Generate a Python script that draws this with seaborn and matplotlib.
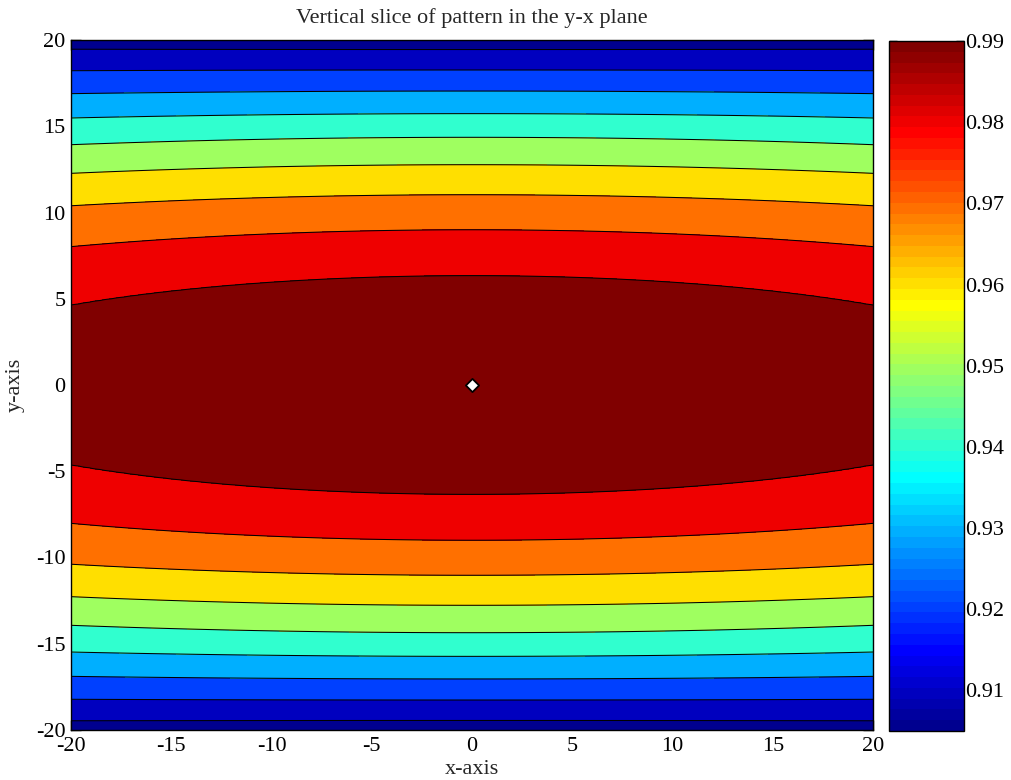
import numpy as np
import matplotlib
matplotlib.use("Agg")
import matplotlib.pyplot as plt
from matplotlib.colors import ListedColormap, Normalize
from matplotlib.cm import ScalarMappable
import seaborn as sns

# ---------------- data ----------------
title = "Vertical slice of pattern in the y-x plane"
x_label = "x-axis"
y_label = "y-axis"
x_ticks = [-20, -15, -10, -5, 0, 5, 10, 15, 20]
y_ticks = [-20, -15, -10, -5, 0, 5, 10, 15, 20]
cbar_ticks = [0.91, 0.92, 0.93, 0.94, 0.95, 0.96, 0.97, 0.98, 0.99]
value_min = 0.905
value_max = 0.99
# contour levels, innermost (highest) to outermost (lowest)
contour_levels = [0.9815, 0.973, 0.9645, 0.956, 0.9475, 0.939, 0.9305, 0.922, 0.9135]
# |y| where each contour crosses x = 0 and x = +/-20
cross_y_center = [6.34, 9.00, 11.03, 12.77, 14.36, 15.73, 17.04, 18.26, 19.44]
cross_y_edge = [4.62, 8.02, 10.39, 12.27, 13.93, 15.48, 16.89, 18.22, 19.46]
# jet(64) colour index (1-based) of each filled band, lowest band first
band_color_index = [1, 4, 12, 19, 27, 34, 42, 49, 57, 64]
source_x = [0.0]
source_y = [0.0]


# ---------------- MATLAB style jet(64) ----------------
def matlab_jet(n=64):
    cols = []
    for k in range(1, n + 1):
        if k <= 8:
            r, g, b = 0.0, 0.0, 0.5 + k / 16
        elif k <= 24:
            r, g, b = 0.0, (k - 8) / 16, 1.0
        elif k <= 40:
            r, g, b = (k - 24) / 16, 1.0, 1.0 - (k - 24) / 16
        elif k <= 56:
            r, g, b = 1.0, 1.0 - (k - 40) / 16, 0.0
        else:
            r, g, b = 1.0 - (k - 56) / 16, 0.0, 0.0
        cols.append((r, g, b))
    return cols


jet64 = matlab_jet(64)
band_colors = [jet64[i - 1] for i in band_color_index]

# ---------------- surface built from the contour crossings ----------------
xs = np.linspace(-20, 20, 401)
ys = np.linspace(-20, 20, 401)
Z = np.empty((len(ys), len(xs)))
c0 = np.array(cross_y_center) ** 2
c1 = np.array(cross_y_edge) ** 2
lv = np.array(contour_levels)
for j, xv in enumerate(xs):
    t = (xv / 20.0) ** 2
    yk2 = c0 + (c1 - c0) * t
    knots = np.concatenate([[0.0], yk2, [450.0]])
    vals = np.concatenate([[value_max], lv, [value_min - 0.002]])
    Z[:, j] = np.interp(ys ** 2, knots, vals)

fill_levels = [value_min - 0.01] + sorted(contour_levels) + [value_max + 0.01]

# ---------------- figure ----------------
sns.set_theme(style="ticks")
plt.rcParams["font.family"] = ["Liberation Serif", "DejaVu Serif"]
plt.rcParams["mathtext.fontset"] = "stix"

FS = 16
fig = plt.figure(figsize=(10.11, 7.80), dpi=100)
fig.patch.set_facecolor("white")
ax = fig.add_axes([71 / 1011, 50 / 780, 802 / 1011, 690 / 780])
cax = fig.add_axes([889 / 1011, 49 / 780, 75 / 1011, 690 / 780])

ax.contourf(xs, ys, Z, levels=fill_levels, colors=band_colors)
ax.contour(xs, ys, Z, levels=sorted(contour_levels), colors="black", linewidths=0.75)
sns.scatterplot(x=source_x, y=source_y, ax=ax, marker="D", s=45, color="white",
                edgecolor="black", linewidth=1.3, zorder=5, legend=False)

ax.set_xlim(-20, 20)
ax.set_ylim(-20, 20)
ax.set_xticks(x_ticks)
ax.set_yticks(y_ticks)
ax.set_xticklabels([str(v) for v in x_ticks])
ax.set_yticklabels([str(v) for v in y_ticks])
ax.tick_params(direction="in", length=7, width=1, colors="black", labelsize=FS,
               top=True, right=True, bottom=True, left=True)
ax.tick_params(axis="x", pad=5)
ax.tick_params(axis="y", pad=4)
for s in ax.spines.values():
    s.set_color("black")
    s.set_linewidth(1.0)
    s.set_zorder(6)
ax.set_xlabel(x_label, fontsize=FS, labelpad=3)
ax.set_ylabel(y_label, fontsize=FS, labelpad=8)
ax.set_title(title, fontsize=FS, pad=12)

cb = fig.colorbar(ScalarMappable(norm=Normalize(value_min, value_max),
                                 cmap=ListedColormap(jet64)), cax=cax)
cb.set_ticks(cbar_ticks)
cb.set_ticklabels([f"{v:.2f}" for v in cbar_ticks])
cax.tick_params(direction="in", length=6, width=1, colors="black", labelsize=FS,
                left=True, right=True, pad=1)
cb.outline.set_edgecolor("black")
cb.outline.set_linewidth(1.0)

fig.savefig("out.png", dpi=100, facecolor="white")
